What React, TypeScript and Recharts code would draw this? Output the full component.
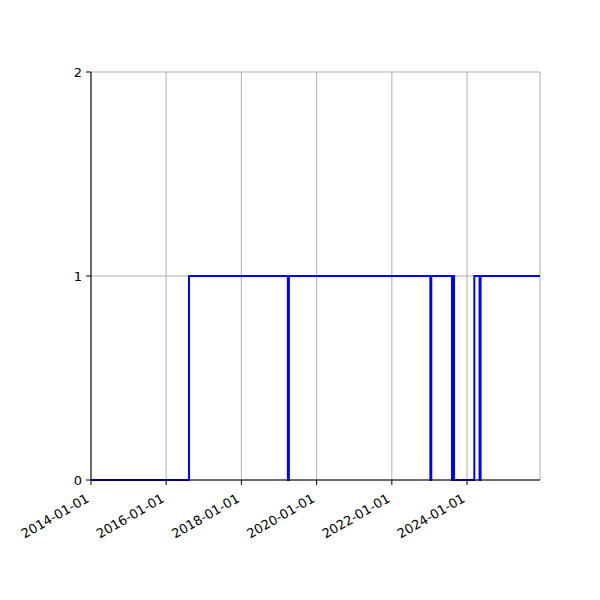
import React from 'react';
import { LineChart, Line, XAxis, YAxis, CartesianGrid } from 'recharts';

// change points of the step series (value holds until the next date)
const stepDates = [
  '2014-01-01', '2016-08-10',
  '2019-03-28', '2019-04-07',
  '2023-01-10', '2023-01-19',
  '2023-08-08', '2023-08-18', '2023-08-28',
  '2024-03-12',
  '2024-05-02', '2024-05-12',
  '2025-12-10',
];
const stepValues = [0, 1, 0, 1, 0, 1, 0, 1, 0, 1, 0, 1, 1];

const xTickLabels = ['2014-01-01', '2016-01-01', '2018-01-01', '2020-01-01', '2022-01-01', '2024-01-01'];
const yTicks = [0, 1, 2];

const toTime = (s: string) => Date.parse(s + 'T00:00:00Z');

const data = stepDates.map((d, i) => ({ t: toTime(d), v: stepValues[i] }));
const xTicks = xTickLabels.map(toTime);
const xDomain = [toTime(stepDates[0]), toTime(stepDates[stepDates.length - 1])];

const fmtDate = (t: number) => new Date(t).toISOString().slice(0, 10);

const FONT = 'DejaVu Sans, sans-serif';

const DateTick = ({ x, y, payload }: any) => {
  const ox = x - 1;
  const oy = y + 16;
  return (
    <text
      x={ox}
      y={oy}
      transform={`rotate(-30, ${ox}, ${oy})`}
      textAnchor="end"
      fontFamily={FONT}
      fontSize={13}
      fill="#000"
    >
      {fmtDate(payload.value)}
    </text>
  );
};

const ValueTick = ({ x, y, payload }: any) => (
  <text x={x} y={y} dy="0.36em" textAnchor="end" fontFamily={FONT} fontSize={13} fill="#000">
    {payload.value}
  </text>
);

export default function App() {
  return (
    <div style={{ position: 'absolute', left: 0, top: 0, width: 600, height: 600, background: '#fff' }}>
      <LineChart width={600} height={600} data={data} margin={{ top: 72, right: 60, bottom: 0, left: 0 }}>
        <CartesianGrid stroke="#b0b0b0" strokeWidth={1} />
        <XAxis
          dataKey="t"
          type="number"
          domain={xDomain}
          ticks={xTicks}
          height={120}
          tickSize={5}
          tickMargin={0}
          tick={<DateTick />}
          axisLine={{ stroke: '#000' }}
          tickLine={{ stroke: '#000' }}
          interval={0}
          allowDataOverflow
        />
        <XAxis
          xAxisId="top"
          orientation="top"
          dataKey="t"
          type="number"
          domain={xDomain}
          height={0}
          tick={false}
          tickLine={false}
          axisLine={{ stroke: '#000' }}
        />
        <YAxis
          type="number"
          domain={[0, 2]}
          ticks={yTicks}
          width={91}
          tickSize={5}
          tickMargin={4}
          tick={<ValueTick />}
          axisLine={{ stroke: '#000' }}
          tickLine={{ stroke: '#000' }}
          interval={0}
        />
        <YAxis
          yAxisId="right"
          orientation="right"
          domain={[0, 2]}
          width={0}
          tick={false}
          tickLine={false}
          axisLine={{ stroke: '#000' }}
        />
        <Line
          dataKey="v"
          type="stepAfter"
          stroke="#0000ff"
          strokeWidth={2}
          dot={false}
          activeDot={false}
          isAnimationActive={false}
        />
      </LineChart>
    </div>
  );
}
